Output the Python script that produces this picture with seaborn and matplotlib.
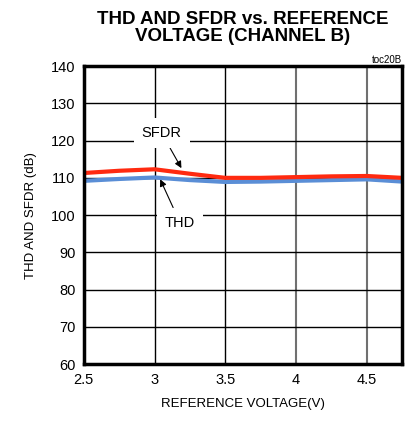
import pandas as pd
import seaborn as sns
import matplotlib.pyplot as plt

# Данные
voltage = [2.5, 2.75, 3.0, 3.25, 3.5, 3.75, 4.0, 4.25, 4.5, 4.75]
sfdr = [111.3, 111.9, 112.3, 111.1, 110.0, 110.0, 110.2, 110.4, 110.5, 110.0]
thd = [109.2, 109.7, 110.1, 109.4, 108.9, 109.0, 109.2, 109.4, 109.6, 109.0]

df = pd.DataFrame({'voltage': voltage, 'SFDR': sfdr, 'THD': thd})
long = df.melt(id_vars='voltage', var_name='metric', value_name='db')

sns.set_style('white')
plt.rcParams['font.family'] = ['Liberation Sans', 'DejaVu Sans']
plt.rcParams['lines.solid_joinstyle'] = 'round'
plt.rcParams['text.color'] = 'black'
plt.rcParams['axes.labelcolor'] = 'black'
plt.rcParams['xtick.color'] = 'black'
plt.rcParams['ytick.color'] = 'black'

fig, ax = plt.subplots(figsize=(4.09, 4.26), dpi=100)
fig.subplots_adjust(left=0.205, right=0.983, top=0.845, bottom=0.145)

sns.lineplot(data=long, x='voltage', y='db', hue='metric',
             palette={'SFDR': '#ff2a10', 'THD': '#5a8ed6'},
             hue_order=['THD', 'SFDR'], linewidth=3, legend=False, ax=ax)

ax.set_xlim(2.5, 4.75)
ax.set_ylim(60, 140)
ax.set_xticks([2.5, 3, 3.5, 4, 4.5])
ax.set_xticklabels(['2.5', '3', '3.5', '4', '4.5'])
ax.set_yticks(range(60, 141, 10))

for v in [3, 3.5]:
    ax.axvline(v, color='black', lw=1, zorder=0)
for v in [4, 4.5]:
    ax.axvline(v, color='#707070', lw=1.5, zorder=0)
for h in range(70, 140, 10):
    ax.axhline(h, color='black', lw=1, zorder=0)

for s in ax.spines.values():
    s.set_linewidth(2.5)
    s.set_color('black')
ax.tick_params(axis='both', length=0, labelsize=10.5, pad=6)

ax.set_xlabel('REFERENCE VOLTAGE(V)', fontsize=9.5, labelpad=8)
ax.set_ylabel('THD AND SFDR (dB)', fontsize=9.5, labelpad=10)
ax.set_title('THD AND SFDR vs. REFERENCE\nVOLTAGE (CHANNEL B)',
             fontsize=13.5, fontweight='bold', pad=18, linespacing=1.0)
ax.text(1.0, 1.005, 'toc20B', transform=ax.transAxes, ha='right', va='bottom', fontsize=7)

box = dict(boxstyle='square,pad=0.55', fc='white', ec='none')
ax.annotate('SFDR', xy=(3.19, 112.6), xytext=(3.05, 122), fontsize=10.5,
            ha='center', va='center', bbox=box,
            arrowprops=dict(arrowstyle='-|>', color='black', lw=0.8,
                            shrinkA=0, shrinkB=0, mutation_scale=10))
ax.annotate('THD', xy=(3.04, 109.6), xytext=(3.18, 98), fontsize=10.5,
            ha='center', va='center', bbox=box,
            arrowprops=dict(arrowstyle='-|>', color='black', lw=0.8,
                            shrinkA=0, shrinkB=0, mutation_scale=10))

plt.savefig('out.png', dpi=100)
